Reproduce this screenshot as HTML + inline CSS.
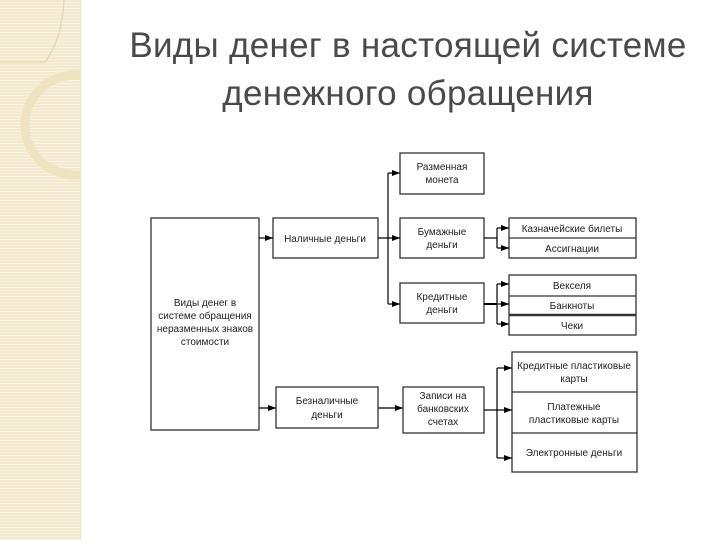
<!DOCTYPE html>
<html><head><meta charset="utf-8"><style>
body{margin:0;width:720px;height:540px;background:#fff;overflow:hidden;position:relative;font-family:"Liberation Sans",sans-serif}
.strip{position:absolute;left:0;top:0;width:80px;height:540px;background:repeating-linear-gradient(#f3e9cf 0 2px,#f9f2e0 2px 3px);border-right:1px solid #ece2c4}
.t{position:absolute;left:100px;width:616px;text-align:center;font-size:35px;color:#4a4a4a;line-height:48px;letter-spacing:0.3px}
</style></head><body>
<div class="strip">
<svg width="80" height="540"><path d="M0 62 L45 62 Q62 40 64 0" fill="none" stroke="#e6d9b4" stroke-width="1.5"/>
<circle cx="75" cy="125" r="50" fill="none" stroke="#f0e4c0" stroke-width="9"/></svg>
</div>
<div class="t" style="top:22px">Виды денег в настоящей системе</div>
<div class="t" style="top:70px">денежного обращения</div>
<svg width="720" height="540" style="position:absolute;left:0;top:0" font-family="Liberation Sans, sans-serif" font-size="10" fill="#222">
<defs><marker id="a" markerWidth="8" markerHeight="6" refX="8" refY="3" orient="auto" markerUnits="userSpaceOnUse"><path d="M0 0L8 3L0 6z" fill="#000"/></marker></defs>
<g fill="none" stroke="#333" stroke-width="1.3">
<rect x="151" y="218" width="108" height="212"/>
<rect x="273" y="218" width="105" height="40"/>
<rect x="400" y="153" width="84" height="41"/>
<rect x="400" y="218" width="84" height="40"/>
<rect x="400" y="283" width="84" height="40"/>
<rect x="509" y="218" width="127" height="40"/><line x1="509" y1="238" x2="636" y2="238"/>
<rect x="509" y="275" width="127" height="60"/><line x1="509" y1="296" x2="636" y2="296"/><line x1="509" y1="315" x2="636" y2="315" stroke-width="2.5"/>
<rect x="276" y="387" width="102" height="41"/>
<rect x="403" y="387" width="81" height="46"/>
<rect x="512" y="352" width="125" height="120"/><line x1="512" y1="392" x2="637" y2="392"/><line x1="512" y1="433" x2="637" y2="433"/>
</g>
<g stroke="#000" stroke-width="1.2" fill="none">
<line x1="259" y1="238" x2="273" y2="238" marker-end="url(#a)"/>
<line x1="259" y1="408" x2="276" y2="408" marker-end="url(#a)"/>
<line x1="378" y1="238" x2="400" y2="238" marker-end="url(#a)"/>
<line x1="388" y1="173" x2="388" y2="304"/>
<line x1="388" y1="173" x2="400" y2="173" marker-end="url(#a)"/>
<line x1="388" y1="304" x2="400" y2="304" marker-end="url(#a)"/>
<line x1="378" y1="408" x2="403" y2="408" marker-end="url(#a)"/>
<line x1="484" y1="238" x2="497" y2="238"/><line x1="497" y1="228" x2="497" y2="248"/>
<line x1="497" y1="228" x2="509" y2="228" marker-end="url(#a)"/><line x1="497" y1="248" x2="509" y2="248" marker-end="url(#a)"/>
<line x1="484" y1="304" x2="497" y2="304" stroke-width="2"/><line x1="497" y1="284" x2="497" y2="324"/>
<line x1="497" y1="284" x2="509" y2="284" marker-end="url(#a)"/><line x1="497" y1="304" x2="509" y2="304" marker-end="url(#a)"/><line x1="497" y1="324" x2="509" y2="324" marker-end="url(#a)"/>
<line x1="484" y1="410" x2="497" y2="410"/><line x1="497" y1="368" x2="497" y2="458"/>
<line x1="497" y1="368" x2="512" y2="368" marker-end="url(#a)"/><line x1="497" y1="410" x2="512" y2="410" marker-end="url(#a)"/><line x1="497" y1="458" x2="512" y2="458" marker-end="url(#a)"/>
</g>
<g text-anchor="middle">
<text x="205" y="306">Виды денег в</text><text x="205" y="319">системе обращения</text><text x="205" y="332">неразменных знаков</text><text x="205" y="345">стоимости</text>
<text x="325" y="242">Наличные деньги</text>
<text x="442" y="170">Разменная</text><text x="442" y="183">монета</text>
<text x="442" y="235">Бумажные</text><text x="442" y="248">деньги</text>
<text x="442" y="300">Кредитные</text><text x="442" y="313">деньги</text>
<text x="572" y="232">Казначейские билеты</text><text x="572" y="252">Ассигнации</text>
<text x="572" y="289">Векселя</text><text x="572" y="309">Банкноты</text><text x="572" y="329">Чеки</text>
<text x="327" y="404">Безналичные</text><text x="327" y="418">деньги</text>
<text x="443" y="399">Записи на</text><text x="443" y="412">банковских</text><text x="443" y="425">счетах</text>
<text x="574" y="369">Кредитные пластиковые</text><text x="574" y="382">карты</text>
<text x="574" y="410">Платежные</text><text x="574" y="423">пластиковые карты</text>
<text x="574" y="456">Электронные деньги</text>
</g>
</svg>
</body></html>
